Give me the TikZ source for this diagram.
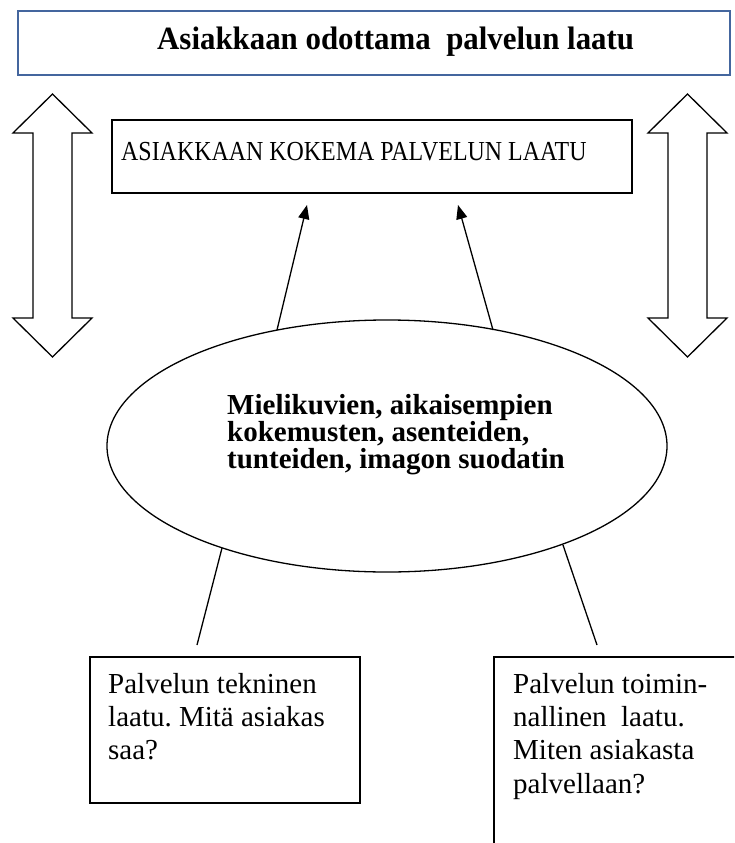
\documentclass[tikz,border=0pt]{standalone}
\usepackage{fontspec}
\setmainfont{Liberation Serif}
\newfontfamily\titlefont[FakeStretch=0.95]{Liberation Serif}
\newfontfamily\capsfont[FakeStretch=0.87]{Liberation Serif}
\usetikzlibrary{shapes.geometric,arrows.meta}
\definecolor{boxblue}{RGB}{68,102,158}
\begin{document}
\frenchspacing
\begin{tikzpicture}[x=1pt,y=-1pt,
  rectbox/.style={draw=black,line width=1.6pt,inner sep=0pt,anchor=north west},
  topbox/.style={draw=boxblue,line width=1.6pt,inner sep=0pt,anchor=north west},
  txt/.style={inner sep=0pt,align=left,anchor=north west},
  conn/.style={draw=black,line width=1.3pt},
  uparrow/.style={conn,-{Triangle[length=14pt,width=11pt]}},
  dblarrow/.style={draw=black,line width=1.3pt,line join=miter,fill=white}]
\useasboundingbox (0,0) rectangle (734,843);
\clip (0,0) rectangle (734,843);

% top box
\node[topbox,minimum width=712pt,minimum height=64pt] (expected) at (17,10) {};
\node[inner sep=0pt,anchor=base west,font=\titlefont\fontsize{32.5}{36}\selectfont\bfseries] (expectedtxt) at (157,50) {Asiakkaan odottama\ \ palvelun laatu};

% experienced quality box
\node[rectbox,minimum width=520pt,minimum height=73pt] (experienced) at (111,119) {};
\node[inner sep=0pt,anchor=base west,font=\capsfont\fontsize{27.5}{30}\selectfont] (experiencedtxt) at (121,160) {ASIAKKAAN KOKEMA PALVELUN LAATU};

% double arrows
\draw[dblarrow] (52.5,94) -- (92,133) -- (72,133) -- (72,318) -- (92,318) -- (52.5,357)
  -- (13,318) -- (33,318) -- (33,133) -- (13,133) -- cycle;
\draw[dblarrow] (687.5,94) -- (727,133) -- (707,133) -- (707,318) -- (727,318) -- (687.5,357)
  -- (648,318) -- (668,318) -- (668,133) -- (648,133) -- cycle;

% filter ellipse
\node[draw=black,line width=1.3pt,ellipse,minimum width=560pt,minimum height=252pt,inner sep=0pt] (filter) at (387,446) {};
\node[txt,font=\fontsize{29}{27}\selectfont\bfseries] (filtertxt) at (227,394)
  {Mielikuvien, aikaisempien\\kokemusten, asenteiden,\\tunteiden, imagon suodatin};

% bottom boxes
\node[rectbox,minimum width=270pt,minimum height=146pt] (technical) at (89,656) {};
\node[txt,font=\fontsize{29}{33.3}\selectfont] (technicaltxt) at (108,673)
  {Palvelun tekninen\\laatu. Mitä asiakas\\saa?};
\node[rectbox,minimum width=300pt,minimum height=230pt] (functional) at (493,656) {};
\node[txt,font=\fontsize{29}{33.3}\selectfont] (functionaltxt) at (513,673)
  {Palvelun toimin-\\nallinen\ \ laatu.\\Miten asiakasta\\palvellaan?};

% connector end points
\coordinate (ul0) at (277,330);
\coordinate (ul1) at (307,205);
\coordinate (ur0) at (493,330);
\coordinate (ur1) at (458,205);
\coordinate (bl0) at (222,548);
\coordinate (bl1) at (197,645);
\coordinate (br0) at (563,545);
\coordinate (br1) at (597,645);

\draw[uparrow] (ul0) -- (ul1);
\draw[uparrow] (ur0) -- (ur1);
\draw[conn] (bl0) -- (bl1);
\draw[conn] (br0) -- (br1);
\end{tikzpicture}
\end{document}
